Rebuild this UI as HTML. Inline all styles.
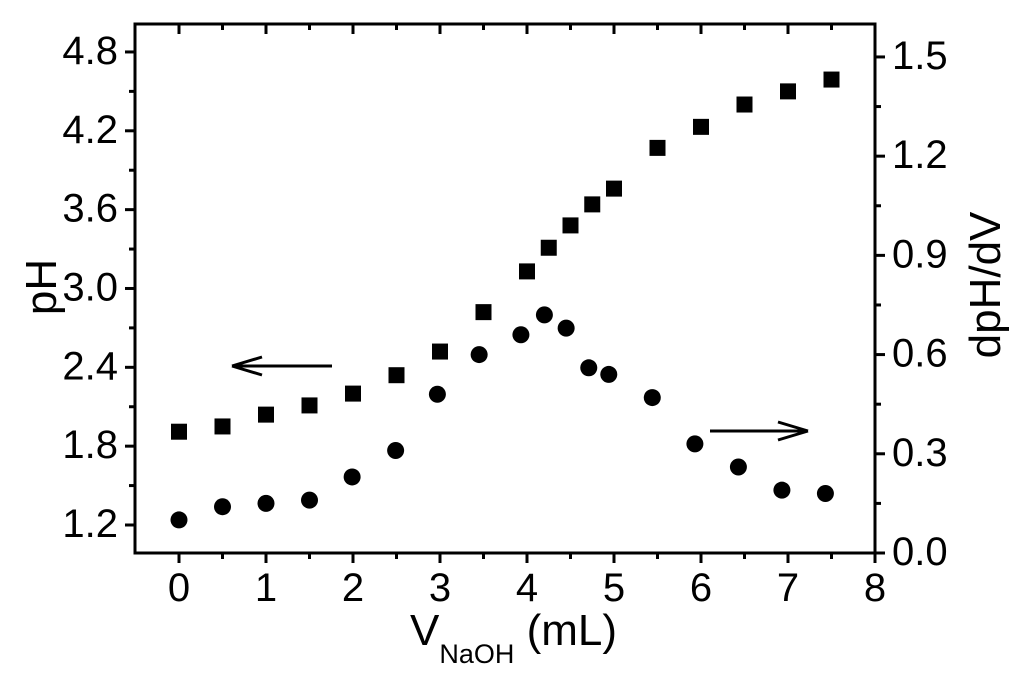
<!DOCTYPE html>
<html><head><meta charset="utf-8"><style>body{margin:0;background:#fff}svg{display:block;font-family:"Liberation Sans",sans-serif}</style></head>
<body>
<svg id="chart" width="1024" height="678">
<g id="axes"></g>
<g id="marks"></g>
<text x="410" y="645" font-size="44">V<tspan font-size="27" dy="18">NaOH</tspan><tspan dy="-18"> (mL)</tspan></text>
<text transform="translate(56,287) rotate(-90)" font-size="44" text-anchor="middle">pH</text>
<text transform="translate(1000,285) rotate(-90)" font-size="44" text-anchor="middle">dpH/dV</text>
<g><line x1="332" y1="366" x2="236" y2="366" stroke="#000" stroke-width="3"/><path d="M232 366 L262 357 M232 366 L262 375" stroke="#000" stroke-width="3" fill="none"/></g>
<g><line x1="710" y1="431" x2="804" y2="431" stroke="#000" stroke-width="3"/><path d="M808 431 L778 422 M808 431 L778 440" stroke="#000" stroke-width="3" fill="none"/></g>
</svg>
<script>
const phX=[0,0.5,1,1.5,2,2.5,3,3.5,4,4.25,4.5,4.75,5,5.5,6,6.5,7,7.5];
const phY=[1.91,1.95,2.04,2.11,2.2,2.34,2.52,2.82,3.13,3.31,3.48,3.64,3.76,4.07,4.23,4.4,4.5,4.59];
const dX=[0,0.5,1,1.5,1.99,2.49,2.97,3.45,3.93,4.2,4.45,4.71,4.94,5.44,5.93,6.43,6.93,7.43];
const dY=[0.10,0.14,0.15,0.16,0.23,0.31,0.48,0.60,0.66,0.72,0.68,0.56,0.54,0.47,0.33,0.26,0.19,0.18];
const xTicks=[0,1,2,3,4,5,6,7,8];
const lTicks=["1.2","1.8","2.4","3.0","3.6","4.2","4.8"];
const rTicks=["0.0","0.3","0.6","0.9","1.2","1.5"];
const L=135,R=875,T=24,B=553;
const sx=v=>179+(v)*87;
const sl=v=>525-(v-1.2)*131.4;
const sr=v=>553-v*330.7;
const NS="http://www.w3.org/2000/svg";
function mk(p,t,a){const e=document.createElementNS(NS,t);for(const k in a)e.setAttribute(k,a[k]);p.appendChild(e);return e;}
const ax=document.getElementById('axes'),mg=document.getElementById('marks');
const fr=mk(ax,'rect',{x:L,y:T,width:R-L,height:B-T,fill:'none',stroke:'#000','stroke-width':3});


for(let i=0;i<xTicks.length;i++){const v=xTicks[i],x=sx(v);
 mk(ax,'line',{x1:x,y1:B,x2:x,y2:B+10,stroke:'#000','stroke-width':3});
 mk(ax,'line',{x1:x,y1:T,x2:x,y2:T+10,stroke:'#000','stroke-width':3});
 if(v<8){const xm=sx(v+0.5);mk(ax,'line',{x1:xm,y1:B,x2:xm,y2:B+6,stroke:'#000','stroke-width':3});mk(ax,'line',{x1:xm,y1:T,x2:xm,y2:T+6,stroke:'#000','stroke-width':3});}
 const t=mk(ax,'text',{x:x,y:B+48,'font-size':40,'text-anchor':'middle'});t.textContent=v;
 
 }
for(let i=0;i<lTicks.length;i++){const y=sl(parseFloat(lTicks[i]));
 mk(ax,'line',{x1:L-10,y1:y,x2:L,y2:y,stroke:'#000','stroke-width':3});
 const ym=sl(parseFloat(lTicks[i])+0.3);if(ym>T)mk(ax,'line',{x1:L-6,y1:ym,x2:L,y2:ym,stroke:'#000','stroke-width':3});
 const t=mk(ax,'text',{x:L-17,y:y+12,'font-size':40,'text-anchor':'end'});t.textContent=lTicks[i];
 
 }
for(let i=0;i<rTicks.length;i++){const v=parseFloat(rTicks[i]),y=sr(v);
 mk(ax,'line',{x1:R,y1:y,x2:R+10,y2:y,stroke:'#000','stroke-width':3});
 const ym=sr(v+0.15);if(ym>T)mk(ax,'line',{x1:R,y1:ym,x2:R+6,y2:ym,stroke:'#000','stroke-width':3});
 const t=mk(ax,'text',{x:R+17,y:y+12,'font-size':40,'text-anchor':'start'});t.textContent=rTicks[i];
 
 }
for(let i=0;i<phX.length;i++){const r=mk(mg,'rect',{x:sx(phX[i])-8,y:sl(phY[i])-8,width:16,height:16,fill:'#000'});
 
 }
for(let i=0;i<dX.length;i++){const c=mk(mg,'circle',{cx:sx(dX[i]),cy:sr(dY[i]),r:8.5,fill:'#000'});
 
 }
</script>
</body></html>
